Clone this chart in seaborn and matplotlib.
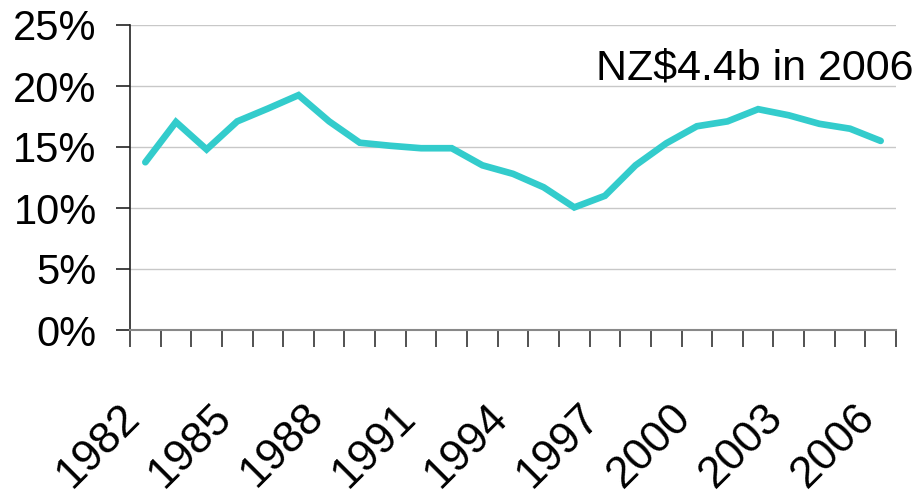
import numpy as np
import pandas as pd
import matplotlib
matplotlib.use("Agg")
import matplotlib.pyplot as plt
import matplotlib.transforms as mtransforms
import seaborn as sns
from matplotlib.ticker import PercentFormatter

# values
years = list(range(1982, 2007))
share = [13.75, 17.05, 14.8, 17.1, 18.15, 19.25, 17.1, 15.35, 15.1, 14.9,
         14.9, 13.5, 12.8, 11.7, 10.05, 11.0, 13.5, 15.3, 16.7, 17.1,
         18.1, 17.6, 16.9, 16.5, 15.5]
label_years = [1982, 1985, 1988, 1991, 1994, 1997, 2000, 2003, 2006]
note = "NZ$4.4b in 2006"

df = pd.DataFrame({"year": years, "share": share})

sns.set_theme(style="white")
plt.rcParams["font.family"] = ["Liberation Sans", "DejaVu Sans"]

fig = plt.figure(figsize=(9.19, 4.99), dpi=100)
ax = fig.add_axes([130 / 919, 1 - 330 / 499, 766 / 919, 305 / 499])

sns.lineplot(data=df, x="year", y="share", ax=ax, color="#33cccc",
             linewidth=4.8, solid_capstyle="round", solid_joinstyle="miter")

ax.set_ylim(0, 25)
ax.set_xlim(years[0] - 0.5, years[-1] + 0.5)
ax.set_yticks(np.arange(0, 26, 5))
ax.yaxis.set_major_formatter(PercentFormatter(decimals=0))
ax.yaxis.grid(True, color="#c8c8c8", linewidth=1)
ax.set_axisbelow(True)

# category boundaries carry the tick marks, labels every third year
ax.set_xticks(np.arange(years[0] - 0.5, years[-1] + 1), minor=True)
ax.set_xticks(label_years)
ax.set_xticklabels([str(y) for y in label_years], rotation=45, ha="right",
                   va="center", rotation_mode="anchor")
ax.tick_params(axis="x", which="major", length=0, pad=58, labelsize=32,
               labelcolor="black")
ax.tick_params(axis="x", which="minor", length=12, width=1.2, color="#333333",
               direction="out", bottom=True)
ax.tick_params(axis="y", length=10, width=1.2, color="#222222", pad=14,
               labelsize=30, labelcolor="black", left=True, direction="out")

# nudge year labels a bit to the left
shift = mtransforms.ScaledTranslation(-0.12, 0, fig.dpi_scale_trans)
for lbl in ax.get_xticklabels():
    lbl.set_transform(lbl.get_transform() + shift)

ax.set_xlabel("")
ax.set_ylabel("")
for side in ["top", "right"]:
    ax.spines[side].set_visible(False)
ax.spines["left"].set_color("#222222")
ax.spines["left"].set_linewidth(1.2)
ax.spines["bottom"].set_color("#888888")
ax.spines["bottom"].set_linewidth(1.5)

fig.text(913 / 919, 1 - 80 / 499, note, ha="right", va="baseline",
         fontsize=31, color="black")

fig.savefig("out.png", dpi=100)
